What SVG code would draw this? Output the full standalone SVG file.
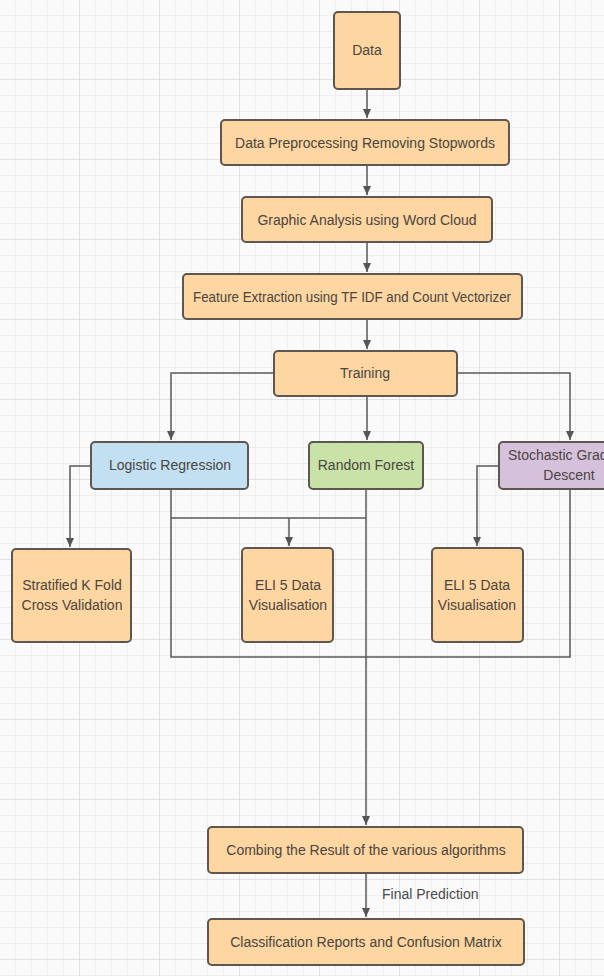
<svg xmlns="http://www.w3.org/2000/svg" width="604" height="976" viewBox="0 0 604 976">
<defs>
<pattern id="minor" width="16" height="16" patternUnits="userSpaceOnUse">
<path d="M16 0V16M0 16H16" fill="none" stroke="#e4e4e4" stroke-width="1"/>
</pattern>
<pattern id="major" width="80" height="80" patternUnits="userSpaceOnUse">
<rect width="80" height="80" fill="url(#minor)"/>
<path d="M80 0V80M0 80H80" fill="none" stroke="#d4d4d4" stroke-width="1"/>
</pattern>
<marker id="arr" markerWidth="10" markerHeight="10" refX="9" refY="5" orient="auto" markerUnits="userSpaceOnUse">
<path d="M0 1L9 5L0 9Z" fill="#555"/>
</marker>
<style>
.n{stroke:#5e5650;stroke-width:2;}
.o{fill:#fdd6a2;}
.b{fill:#c3e0f3;}
.g{fill:#c8e2a8;}
.p{fill:#d6c1dc;}
.t{font-family:"Liberation Sans",Arial,sans-serif;font-size:14px;fill:#4a4540;text-anchor:middle;dominant-baseline:central;}
.c{fill:none;stroke:#5a5a5a;stroke-width:1.5;}
.l{font-family:"Liberation Sans",Arial,sans-serif;font-size:14px;fill:#4a4a4a;}
</style>
</defs>
<rect width="604" height="976" fill="#fafafa"/>
<rect width="604" height="976" fill="url(#major)"/>

<g id="connectors">
<path class="c" d="M367 89V118" marker-end="url(#arr)"/>
<path class="c" d="M367 165V195" marker-end="url(#arr)"/>
<path class="c" d="M367 242V272" marker-end="url(#arr)"/>
<path class="c" d="M367 319V349" marker-end="url(#arr)"/>
<path class="c" d="M274 373H171V440" marker-end="url(#arr)"/>
<path class="c" d="M367 396V440" marker-end="url(#arr)"/>
<path class="c" d="M457 373H570V440" marker-end="url(#arr)"/>
<path class="c" d="M91 466H70V547" marker-end="url(#arr)"/>
<path class="c" d="M171 489V657H570V489"/>
<path class="c" d="M171 518H366"/>
<path class="c" d="M289 518V546" marker-end="url(#arr)"/>
<path class="c" d="M499 466H477V546" marker-end="url(#arr)"/>
<path class="c" d="M366 489V825" marker-end="url(#arr)"/>
<path class="c" d="M366 873V917" marker-end="url(#arr)"/>
<text class="l" x="382" y="899">Final Prediction</text>
</g>

<g id="data"><rect class="n o" x="334" y="12" width="66" height="77" rx="4"/><text class="t" x="367" y="50">Data</text></g>
<g id="preprocessing"><rect class="n o" x="221" y="120" width="288" height="45" rx="4"/><text class="t" x="365" y="143">Data Preprocessing Removing Stopwords</text></g>
<g id="graphic"><rect class="n o" x="242" y="197" width="250" height="45" rx="4"/><text class="t" x="367" y="220">Graphic Analysis using Word Cloud</text></g>
<g id="feature"><rect class="n o" x="183" y="274" width="339" height="45" rx="4"/><text class="t" x="352" y="297" textLength="318" lengthAdjust="spacingAndGlyphs">Feature Extraction using TF IDF and Count Vectorizer</text></g>
<g id="training"><rect class="n o" x="274" y="351" width="183" height="45" rx="4"/><text class="t" x="365" y="373">Training</text></g>
<g id="logistic"><rect class="n b" x="91" y="442" width="157" height="47" rx="4"/><text class="t" x="170" y="465">Logistic Regression</text></g>
<g id="forest"><rect class="n g" x="309" y="442" width="114" height="47" rx="4"/><text class="t" x="366" y="465">Random Forest</text></g>
<g id="sgd"><rect class="n p" x="499" y="442" width="150" height="47" rx="4"/><text class="t" x="569" y="455">Stochastic Gradient</text><text class="t" x="569" y="475">Descent</text></g>
<g id="stratified"><rect class="n o" x="12" y="549" width="119" height="93" rx="4"/><text class="t" x="72" y="585">Stratified K Fold</text><text class="t" x="72" y="605">Cross Validation</text></g>
<g id="eli5a"><rect class="n o" x="242" y="548" width="91" height="94" rx="4"/><text class="t" x="288" y="585">ELI 5 Data</text><text class="t" x="288" y="605">Visualisation</text></g>
<g id="eli5b"><rect class="n o" x="432" y="548" width="91" height="94" rx="4"/><text class="t" x="477" y="585">ELI 5 Data</text><text class="t" x="477" y="605">Visualisation</text></g>
<g id="combining"><rect class="n o" x="208" y="827" width="315" height="46" rx="4"/><text class="t" x="366" y="850">Combing the Result of the various algorithms</text></g>
<g id="classification"><rect class="n o" x="208" y="919" width="316" height="46" rx="4"/><text class="t" x="366" y="942">Classification Reports and Confusion Matrix</text></g>
</svg>
